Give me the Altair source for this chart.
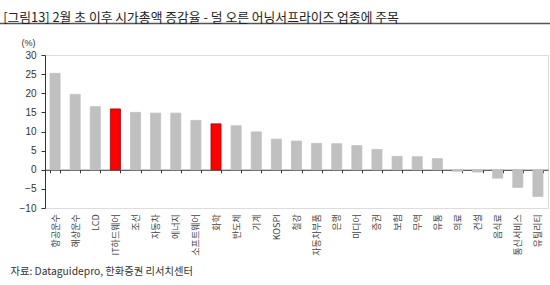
import altair as alt
import pandas as pd

categories = ["항공운수", "해상운수", "LCD", "IT하드웨어", "조선", "자동차", "에너지", "소프트웨어",
              "화학", "반도체", "기계", "KOSPI", "철강", "자동차부품", "은행", "미디어", "증권",
              "보험", "무역", "유통", "의료", "건설", "음식료", "통신서비스", "유틸리티"]
values = [25.2, 19.7, 16.5, 15.9, 15.0, 14.8, 14.8, 12.9, 12.0, 11.5, 9.9, 8.0, 7.5, 6.9,
          6.8, 6.3, 5.3, 3.5, 3.4, 2.9, -0.4, -0.6, -2.2, -4.6, -7.0]
highlighted = ["IT하드웨어", "화학"]
y_ticks = [-10, -5, 0, 5, 10, 15, 20, 25, 30]

title_text = "[그림13] 2월 초 이후 시가총액 증감율 - 덜 오른 어닝서프라이즈 업종에 주목"
source_text = "자료: Dataguidepro, 한화증권 리서치센터"

df = pd.DataFrame({"category": categories, "value": values})
df["hl"] = df["category"].isin(highlighted).map({True: "hl", False: "base"})

KR = "Noto Sans CJK KR"
W, H = 503, 153

bars = alt.Chart(df).mark_bar(strokeWidth=0.8).encode(
    x=alt.X("category:N", sort=categories,
            scale=alt.Scale(paddingInner=0.5, paddingOuter=0.25),
            axis=alt.Axis(orient="bottom", offset=-H * 10 / 40, labelAngle=-90,
                          labelFont=KR, labelFontSize=9, labelColor="#444",
                          labelPadding=41, tickBand="extent", tickSize=3,
                          tickColor="#333", domainColor="#333",
                          title=source_text, titleFont=KR, titleFontSize=10.3,
                          titleFontWeight="normal", titleColor="#333",
                          titleX=-35, titleY=102, titleAlign="left",
                          titleBaseline="middle")),
    y=alt.Y("value:Q", scale=alt.Scale(domain=[-10, 30], nice=False, zero=False),
            axis=alt.Axis(values=y_ticks, grid=False, tickSize=4, tickColor="#333",
                          domainColor="#333", labelFont="Liberation Sans",
                          labelFontSize=10, labelColor="#333", labelPadding=5,
                          title="(%)", titleAngle=0, titleX=-24, titleY=-13,
                          titleAlign="left", titleBaseline="middle",
                          titleFont="Liberation Sans", titleFontSize=9,
                          titleFontWeight="normal", titleColor="#333")),
    y2=alt.datum(0),
    color=alt.Color("hl:N", scale=alt.Scale(domain=["base", "hl"],
                                            range=["#C0C0C0", "#FF0000"]), legend=None),
    stroke=alt.Stroke("hl:N", scale=alt.Scale(domain=["base", "hl"],
                                              range=["#C0C0C0", "#A00000"]), legend=None),
)

header_line = alt.Chart(pd.DataFrame({"a": [0]})).mark_rule(
    color="#555", strokeWidth=1.5
).encode(x=alt.value(-45), x2=alt.value(W + 2), y=alt.value(-31.5))

chart = alt.layer(bars, header_line).properties(
    width=W, height=H,
    title=alt.TitleParams(title_text, anchor="start", font=KR, fontSize=12.8,
                          fontWeight="normal", color="#222", dx=4, offset=-2),
    autosize=alt.AutoSizeParams(type="none"),
    padding={"left": 45, "top": 55, "right": 2, "bottom": 77},
).configure_view(stroke=None).configure(background="white")

chart.save("out.html", embed_options={"renderer": "svg", "actions": False})
